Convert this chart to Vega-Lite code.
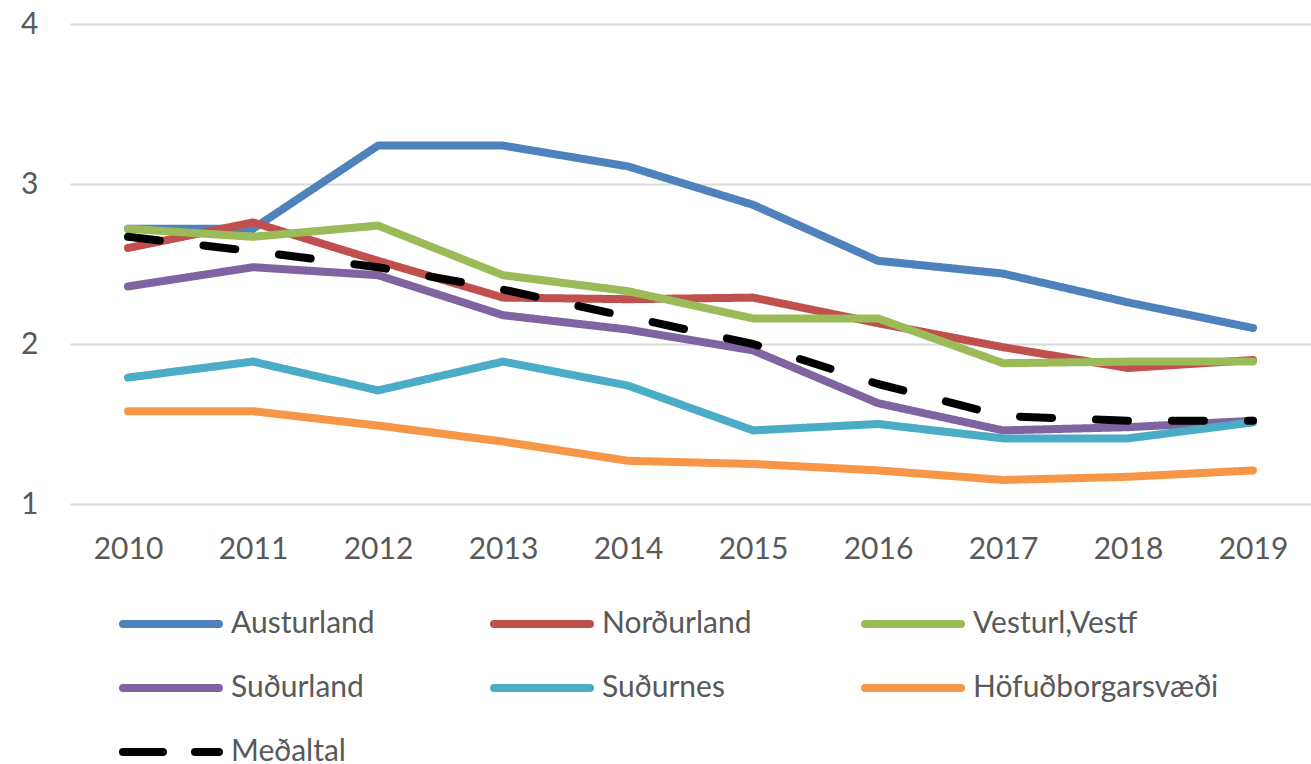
{
  "$schema": "https://vega.github.io/schema/vega-lite/v6.json",
  "width": 1241,
  "height": 480,
  "autosize": {"type": "none"},
  "padding": {"left": 70, "top": 24, "right": 0, "bottom": 260},
  "background": "white",
  "config": {
    "font": "Lato",
    "view": {"stroke": null}
  },
  "data": {
    "values": [
      {"year": "2010", "region": "Austurland", "value": 2.72},
      {"year": "2011", "region": "Austurland", "value": 2.72},
      {"year": "2012", "region": "Austurland", "value": 3.24},
      {"year": "2013", "region": "Austurland", "value": 3.24},
      {"year": "2014", "region": "Austurland", "value": 3.11},
      {"year": "2015", "region": "Austurland", "value": 2.87},
      {"year": "2016", "region": "Austurland", "value": 2.52},
      {"year": "2017", "region": "Austurland", "value": 2.44},
      {"year": "2018", "region": "Austurland", "value": 2.26},
      {"year": "2019", "region": "Austurland", "value": 2.10},
      {"year": "2010", "region": "Norðurland", "value": 2.60},
      {"year": "2011", "region": "Norðurland", "value": 2.76},
      {"year": "2012", "region": "Norðurland", "value": 2.52},
      {"year": "2013", "region": "Norðurland", "value": 2.29},
      {"year": "2014", "region": "Norðurland", "value": 2.28},
      {"year": "2015", "region": "Norðurland", "value": 2.29},
      {"year": "2016", "region": "Norðurland", "value": 2.13},
      {"year": "2017", "region": "Norðurland", "value": 1.98},
      {"year": "2018", "region": "Norðurland", "value": 1.85},
      {"year": "2019", "region": "Norðurland", "value": 1.90},
      {"year": "2010", "region": "Vesturl,Vestf", "value": 2.72},
      {"year": "2011", "region": "Vesturl,Vestf", "value": 2.67},
      {"year": "2012", "region": "Vesturl,Vestf", "value": 2.74},
      {"year": "2013", "region": "Vesturl,Vestf", "value": 2.43},
      {"year": "2014", "region": "Vesturl,Vestf", "value": 2.33},
      {"year": "2015", "region": "Vesturl,Vestf", "value": 2.16},
      {"year": "2016", "region": "Vesturl,Vestf", "value": 2.16},
      {"year": "2017", "region": "Vesturl,Vestf", "value": 1.88},
      {"year": "2018", "region": "Vesturl,Vestf", "value": 1.89},
      {"year": "2019", "region": "Vesturl,Vestf", "value": 1.89},
      {"year": "2010", "region": "Suðurland", "value": 2.36},
      {"year": "2011", "region": "Suðurland", "value": 2.48},
      {"year": "2012", "region": "Suðurland", "value": 2.43},
      {"year": "2013", "region": "Suðurland", "value": 2.18},
      {"year": "2014", "region": "Suðurland", "value": 2.09},
      {"year": "2015", "region": "Suðurland", "value": 1.96},
      {"year": "2016", "region": "Suðurland", "value": 1.63},
      {"year": "2017", "region": "Suðurland", "value": 1.46},
      {"year": "2018", "region": "Suðurland", "value": 1.48},
      {"year": "2019", "region": "Suðurland", "value": 1.52},
      {"year": "2010", "region": "Suðurnes", "value": 1.79},
      {"year": "2011", "region": "Suðurnes", "value": 1.89},
      {"year": "2012", "region": "Suðurnes", "value": 1.71},
      {"year": "2013", "region": "Suðurnes", "value": 1.89},
      {"year": "2014", "region": "Suðurnes", "value": 1.74},
      {"year": "2015", "region": "Suðurnes", "value": 1.46},
      {"year": "2016", "region": "Suðurnes", "value": 1.50},
      {"year": "2017", "region": "Suðurnes", "value": 1.41},
      {"year": "2018", "region": "Suðurnes", "value": 1.41},
      {"year": "2019", "region": "Suðurnes", "value": 1.51},
      {"year": "2010", "region": "Höfuðborgarsvæði", "value": 1.58},
      {"year": "2011", "region": "Höfuðborgarsvæði", "value": 1.58},
      {"year": "2012", "region": "Höfuðborgarsvæði", "value": 1.49},
      {"year": "2013", "region": "Höfuðborgarsvæði", "value": 1.39},
      {"year": "2014", "region": "Höfuðborgarsvæði", "value": 1.27},
      {"year": "2015", "region": "Höfuðborgarsvæði", "value": 1.25},
      {"year": "2016", "region": "Höfuðborgarsvæði", "value": 1.21},
      {"year": "2017", "region": "Höfuðborgarsvæði", "value": 1.15},
      {"year": "2018", "region": "Höfuðborgarsvæði", "value": 1.17},
      {"year": "2019", "region": "Höfuðborgarsvæði", "value": 1.21},
      {"year": "2010", "region": "Meðaltal", "value": 2.67},
      {"year": "2011", "region": "Meðaltal", "value": 2.58},
      {"year": "2012", "region": "Meðaltal", "value": 2.48},
      {"year": "2013", "region": "Meðaltal", "value": 2.34},
      {"year": "2014", "region": "Meðaltal", "value": 2.17},
      {"year": "2015", "region": "Meðaltal", "value": 2.00},
      {"year": "2016", "region": "Meðaltal", "value": 1.75},
      {"year": "2017", "region": "Meðaltal", "value": 1.55},
      {"year": "2018", "region": "Meðaltal", "value": 1.52},
      {"year": "2019", "region": "Meðaltal", "value": 1.52}
    ]
  },
  "mark": {"type": "line", "strokeWidth": 8, "strokeCap": "round", "strokeJoin": "round"},
  "encoding": {
    "x": {
      "field": "year",
      "type": "ordinal",
      "scale": {"type": "point", "padding": 0.464},
      "axis": {
        "title": null,
        "domain": false,
        "ticks": false,
        "grid": false,
        "labelAngle": 0,
        "labelFont": "Lato",
        "labelFontSize": 30,
        "labelColor": "#595959",
        "labelPadding": 30
      }
    },
    "y": {
      "field": "value",
      "type": "quantitative",
      "scale": {"domain": [1, 4], "nice": false, "zero": false},
      "axis": {
        "title": null,
        "values": [1, 2, 3, 4],
        "domain": false,
        "ticks": false,
        "grid": true,
        "gridColor": "#d9d9d9",
        "gridWidth": 2,
        "labelFont": "Lato",
        "labelFontSize": 30,
        "labelColor": "#595959",
        "labelPadding": 32
      }
    },
    "color": {
      "field": "region",
      "type": "nominal",
      "scale": {
        "domain": ["Austurland", "Norðurland", "Vesturl,Vestf", "Suðurland", "Suðurnes", "Höfuðborgarsvæði", "Meðaltal"],
        "range": ["#4F81BD", "#C0504D", "#9BBB59", "#8064A2", "#4BACC6", "#F79646", "#000000"]
      },
      "legend": {
        "title": null,
        "orient": "none",
        "direction": "horizontal",
        "legendX": 73,
        "legendY": 572,
        "columns": 3,
        "gridAlign": "all",
        "columnPadding": 1,
        "rowPadding": 20,
        "symbolType": "M-2,0H2",
        "symbolSize": 2304,
        "symbolStrokeWidth": 8,
        "labelFont": "Lato",
        "labelFontSize": 30,
        "labelColor": "#595959",
        "labelOffset": 32,
        "labelLimit": 400,
        "encode": {
          "symbols": {
            "update": {
              "strokeDash": {"signal": "datum.label === 'Meðaltal' ? [40, 32] : [1, 0]"},
              "strokeCap": {"value": "round"}
            }
          }
        }
      }
    },
    "strokeDash": {
      "condition": {"test": "datum.region === 'Meðaltal'", "value": [32, 44]},
      "value": [1, 0]
    }
  }
}
